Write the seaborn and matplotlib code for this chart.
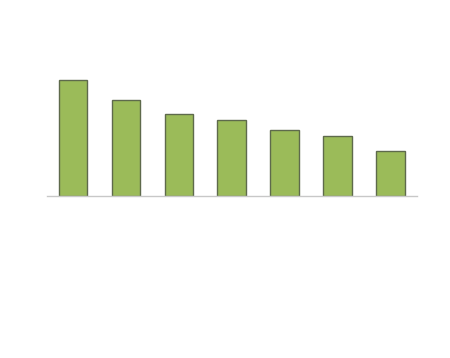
import pandas as pd
import seaborn as sns
import matplotlib.pyplot as plt

categories = ['A', 'B', 'C', 'D', 'E', 'F', 'G']
values = [115.4, 96.0, 81.7, 75.4, 66.0, 60.0, 44.7]

df = pd.DataFrame({'category': categories, 'value': values})

sns.set_style('white')
fig = plt.figure(figsize=(4.5, 3.58), dpi=100)
ax = fig.add_axes([46.7 / 450, 162.3 / 358, 370 / 450, 140 / 358])

sns.barplot(data=df, x='category', y='value', color='#9BBB59', saturation=1,
            width=0.54, edgecolor='#5E6A4C', linewidth=1.0, ax=ax)

ax.set_ylim(0, 140)
ax.set_xlim(-0.5, len(categories) - 0.5)
ax.set_xticks([])
ax.set_yticks([])
ax.set_xlabel('')
ax.set_ylabel('')
for side in ['top', 'right', 'left']:
    ax.spines[side].set_visible(False)
ax.spines['bottom'].set_color('#C8C8C8')
ax.spines['bottom'].set_linewidth(1.0)

fig.savefig('out.png', dpi=100)
plt.close(fig)
